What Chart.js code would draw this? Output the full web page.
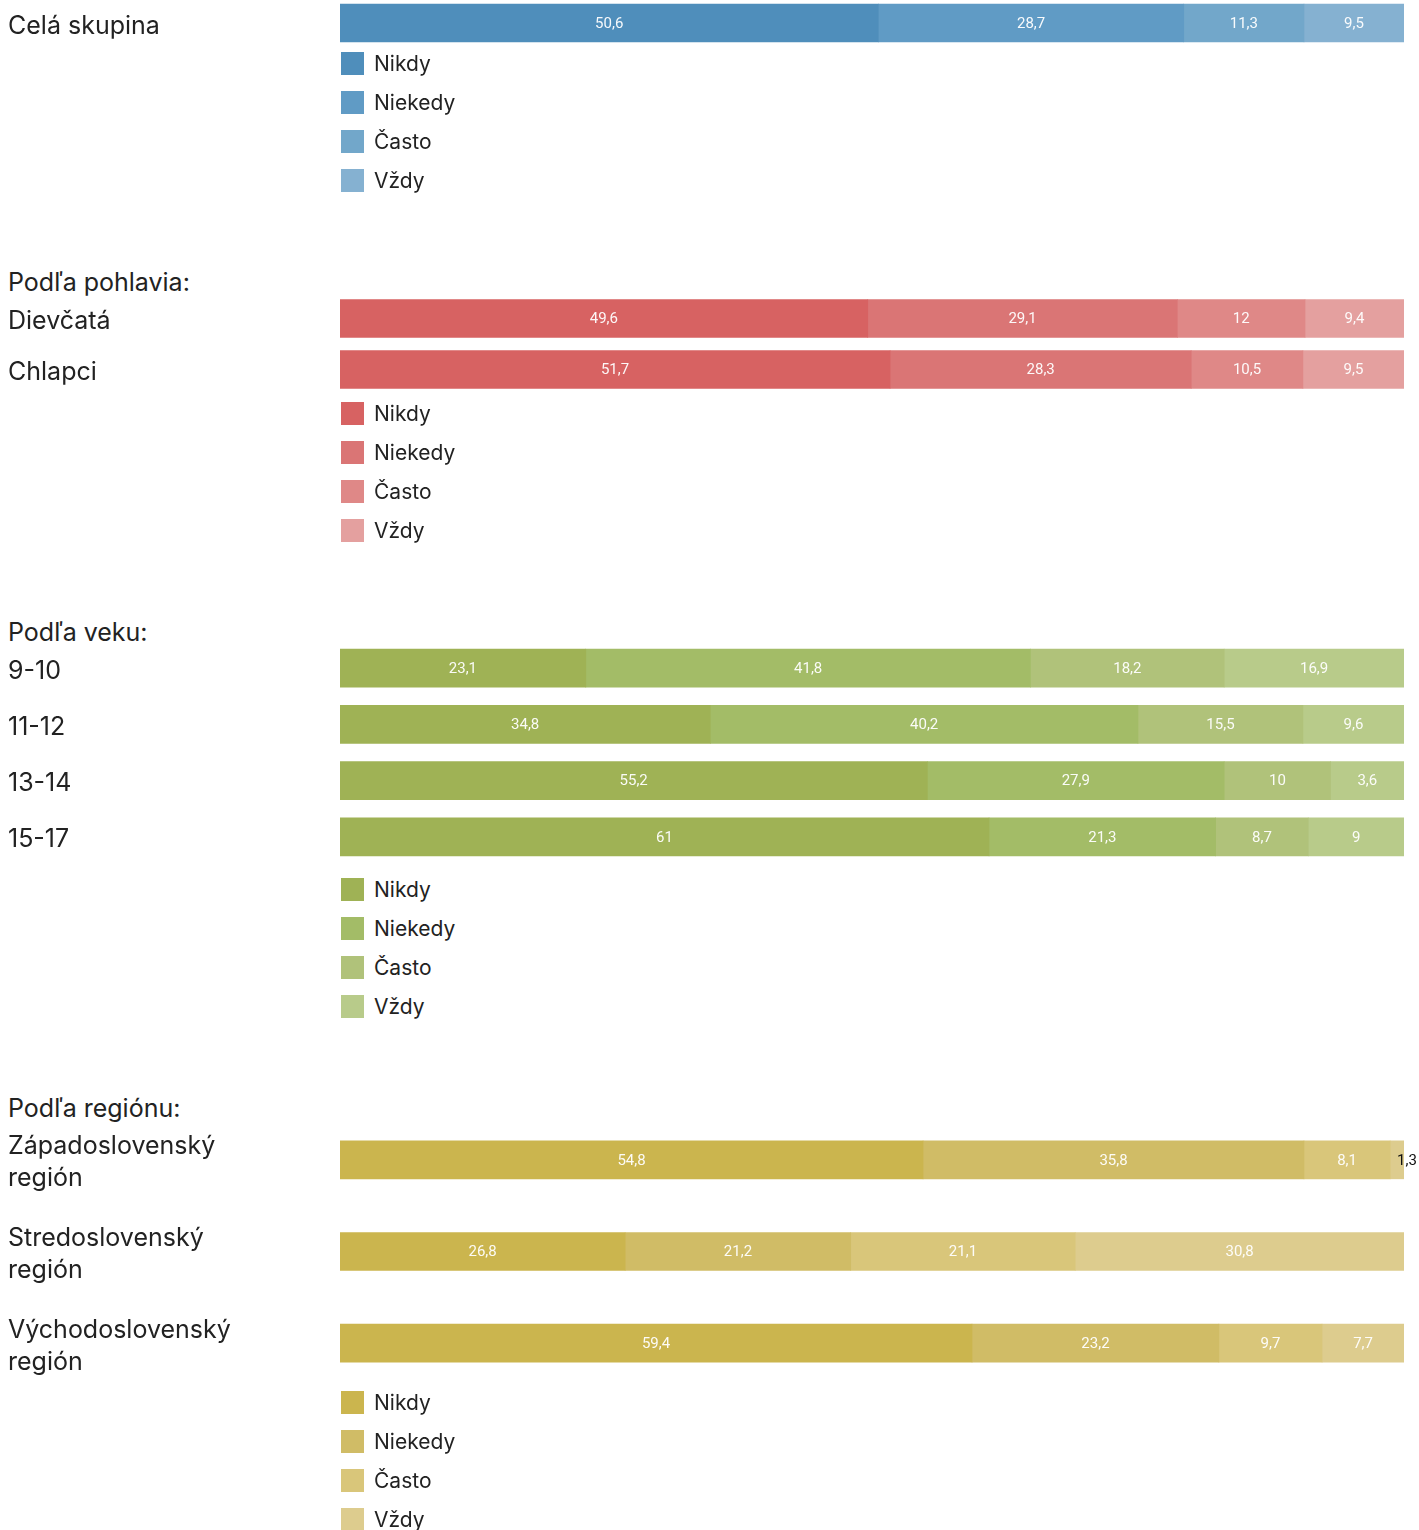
<!DOCTYPE html>
<html>
<head>
<meta charset="utf-8">
<script src="https://cdn.jsdelivr.net/npm/chart.js@4"></script>
<style>
  body { margin: 0; background: #fff; width: 1419px; height: 1530px; position: relative; overflow: hidden; font-family: Inter, "Noto Sans", sans-serif; color: #222; }
  canvas { position: absolute; left: 0; }
  .head { position: absolute; left: 8px; font-size: 25px; line-height: 32px; color: #222; }
  .legend { position: absolute; left: 341px; }
  .legend .item { height: 39px; display: flex; align-items: center; font-size: 21px; color: #222; }
  .legend .box { width: 23px; height: 23px; margin-right: 10px; }
</style>
</head>
<body>
<div class="head" style="top:266px">Podľa pohlavia:</div>
<div class="head" style="top:616px">Podľa veku:</div>
<div class="head" style="top:1092px">Podľa regiónu:</div>

<canvas id="c1" width="1419" height="44" style="top:1px"></canvas>
<canvas id="c2" width="1419" height="102" style="top:293px"></canvas>
<canvas id="c3" width="1419" height="225" style="top:640px"></canvas>
<canvas id="c4" width="1419" height="275" style="top:1114px"></canvas>

<div class="legend" id="l1" style="top:44px"></div>
<div class="legend" id="l2" style="top:394px"></div>
<div class="legend" id="l3" style="top:870px"></div>
<div class="legend" id="l4" style="top:1383px"></div>

<script>
const seriesNames = ['Nikdy', 'Niekedy', 'Často', 'Vždy'];

// Celá skupina
const celaLabels = ['Celá skupina'];
const celaNikdy = [50.6];
const celaNiekedy = [28.7];
const celaCasto = [11.3];
const celaVzdy = [9.5];

// Podľa pohlavia
const pohlavieLabels = ['Dievčatá', 'Chlapci'];
const pohlavieNikdy = [49.6, 51.7];
const pohlavieNiekedy = [29.1, 28.3];
const pohlavieCasto = [12, 10.5];
const pohlavieVzdy = [9.4, 9.5];

// Podľa veku
const vekLabels = ['9-10', '11-12', '13-14', '15-17'];
const vekNikdy = [23.1, 34.8, 55.2, 61];
const vekNiekedy = [41.8, 40.2, 27.9, 21.3];
const vekCasto = [18.2, 15.5, 10, 8.7];
const vekVzdy = [16.9, 9.6, 3.6, 9];

// Podľa regiónu
const regionLabels = [['Západoslovenský', 'región'], ['Stredoslovenský', 'región'], ['Východoslovenský', 'región']];
const regionNikdy = [54.8, 26.8, 59.4];
const regionNiekedy = [35.8, 21.2, 23.2];
const regionCasto = [8.1, 21.1, 9.7];
const regionVzdy = [1.3, 30.8, 7.7];

const blueColors = ['#4f8ebb', '#609bc5', '#72a7ca', '#85b1d1'];
const redColors = ['#d76262', '#da7575', '#df8887', '#e4a09f'];
const greenColors = ['#9fb255', '#a3bc67', '#b0c27a', '#b8cb8a'];
const goldColors = ['#cbb54e', '#d0bc66', '#d9c67a', '#ddcc8e'];

const valueLabels = {
    id: 'valueLabels',
    afterDatasetsDraw(chart) {
        const ctx = chart.ctx;
        ctx.save();
        ctx.font = '15px Roboto';
        ctx.textBaseline = 'middle';
        chart.data.datasets.forEach((ds, i) => {
            const meta = chart.getDatasetMeta(i);
            meta.data.forEach((bar, j) => {
                const text = String(ds.shown[j]).replace('.', ',');
                const w = bar.x - bar.base;
                const cx = (bar.x + bar.base) / 2;
                const tw = ctx.measureText(text).width;
                if (w < tw + 4) {
                    ctx.fillStyle = '#111';
                    ctx.textAlign = 'left';
                } else {
                    ctx.fillStyle = 'rgba(255,255,255,0.95)';
                    ctx.textAlign = 'center';
                }
                ctx.fillText(text, cx, bar.y + 1);
            });
        });
        ctx.restore();
    }
};

function createGroupChart(canvasId, legendId, labels, values, colors) {
    const last = values.length - 1;
    const datasets = values.map((data, i) => ({
        label: seriesNames[i],
        shown: data,
        // the last segment fills the bar up to the end, as in the original
        data: i === last
            ? data.map((v, j) => 100 - values.slice(0, last).reduce((s, arr) => s + arr[j], 0))
            : data,
        backgroundColor: colors[i],
        borderWidth: 0,
        barThickness: 38
    }));

    const ctx = document.getElementById(canvasId).getContext('2d');
    const chart = new Chart(ctx, {
        type: 'bar',
        data: {
            labels: labels,
            datasets: datasets
        },
        options: {
            indexAxis: 'y',
            responsive: false,
            animation: false,
            layout: {
                padding: { left: 8, right: 15, top: 0, bottom: 0 }
            },
            plugins: {
                legend: { display: false },
                tooltip: { enabled: false }
            },
            scales: {
                x: {
                    stacked: true,
                    display: false,
                    min: 0,
                    max: 100
                },
                y: {
                    stacked: true,
                    grid: { display: false, drawTicks: false },
                    border: { display: false },
                    afterFit: (scale) => {
                        scale.width = 332;
                        scale.paddingTop = 0;
                        scale.paddingBottom = 0;
                    },
                    ticks: {
                        crossAlign: 'far',
                        padding: 0,
                        labelOffset: 3,
                        color: '#222',
                        font: { family: 'Inter', size: 25, lineHeight: 1.28 }
                    }
                }
            }
        },
        plugins: [valueLabels]
    });

    // legend as a vertical list under the bars
    const legend = document.getElementById(legendId);
    chart.data.datasets.forEach((ds) => {
        const item = document.createElement('div');
        item.className = 'item';
        const box = document.createElement('span');
        box.className = 'box';
        box.style.background = ds.backgroundColor;
        item.appendChild(box);
        item.appendChild(document.createTextNode(ds.label));
        legend.appendChild(item);
    });
    return chart;
}

createGroupChart('c1', 'l1', celaLabels, [celaNikdy, celaNiekedy, celaCasto, celaVzdy], blueColors);
createGroupChart('c2', 'l2', pohlavieLabels, [pohlavieNikdy, pohlavieNiekedy, pohlavieCasto, pohlavieVzdy], redColors);
createGroupChart('c3', 'l3', vekLabels, [vekNikdy, vekNiekedy, vekCasto, vekVzdy], greenColors);
createGroupChart('c4', 'l4', regionLabels, [regionNikdy, regionNiekedy, regionCasto, regionVzdy], goldColors);
</script>
</body>
</html>
